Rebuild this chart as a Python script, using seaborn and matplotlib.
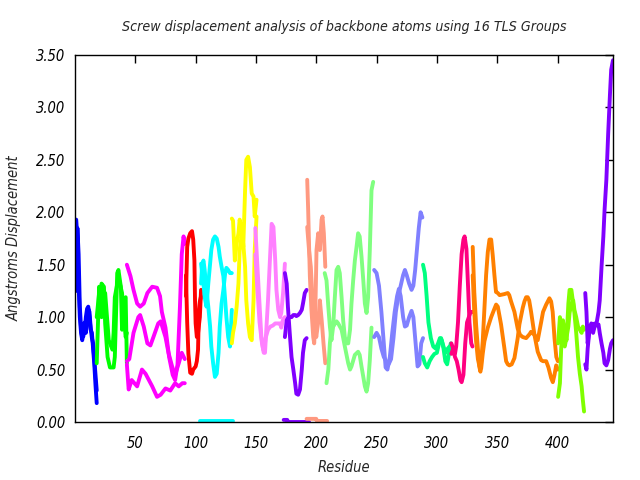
import pandas as pd
import matplotlib
matplotlib.use("Agg")
import matplotlib.pyplot as plt
import seaborn as sns

# ---- data: residue positions and displacement per curve ----

# group 1 (blue)
blue_r = [1, 2, 3, 4, 5, 6, 7, 8, 9, 10, 11, 12, 13, 14, 15, 16, 17, 18]
blue_a = [1.93, 1.75, 1.30, 1.00, 0.85, 0.78, 0.90, 0.85, 1.00, 1.08, 1.10, 1.00, 0.88, 0.85, 0.70, 0.55, 0.35, 0.18]
blue_b = [1.25, 1.85, 1.60, 1.10, 0.90, 0.80, 0.82, 0.95, 0.85, 0.95, 1.08, 1.05, 0.90, 0.80, 0.75, 0.60, 0.45, 0.30]

# group 2 (green)
green_r1 = [18, 20, 21, 22, 24, 25, 27, 29, 32, 33, 35, 36, 38, 39, 40, 42, 43]
green_a = [0.56, 1.29, 1.16, 1.32, 1.29, 0.94, 0.62, 0.52, 0.52, 0.62, 1.42, 1.45, 1.29, 0.88, 1.16, 1.19, 0.56]
green_r2 = [18, 20, 22, 25, 28, 31, 32, 33, 36, 39, 40, 42, 43]
green_b = [1.00, 1.23, 1.00, 1.23, 0.78, 0.69, 0.85, 1.19, 1.38, 1.23, 1.07, 0.81, 0.85]

# group 3 (magenta)
mag_r1 = [43, 46, 48.5, 51.5, 54, 57, 60, 64, 68, 70.5, 72, 75, 78, 81, 83, 85, 87, 88.5, 90, 91]
mag_a = [1.50, 1.39, 1.26, 1.13, 1.10, 1.13, 1.23, 1.29, 1.28, 1.20, 1.05, 0.90, 0.62, 0.45, 0.40, 0.55, 1.10, 1.60, 1.77, 1.70]
mag_r2 = [43, 45, 48.5, 52.5, 54, 57, 60, 62.5, 65, 69, 71, 75, 77.5, 80.5, 83, 86, 88.5, 91]
mag_b = [0.58, 0.60, 0.85, 1.00, 1.02, 0.91, 0.75, 0.73, 0.81, 0.94, 0.96, 0.81, 0.66, 0.53, 0.45, 0.56, 0.66, 0.60]
mag_r3 = [43, 44.5, 47, 51.5, 55.5, 58.5, 64, 68, 71, 75, 79, 83, 86, 89, 91]
mag_c = [0.55, 0.31, 0.40, 0.34, 0.50, 0.46, 0.34, 0.24, 0.26, 0.32, 0.30, 0.37, 0.34, 0.37, 0.37]

# group 4 (red)
red_r1 = [92, 93, 94, 95.5, 97, 98, 99, 99.5, 100, 101, 102, 103.5, 104.5]
red_a = [1.20, 1.67, 1.75, 1.80, 1.82, 1.74, 1.54, 1.16, 0.94, 0.81, 0.85, 1.00, 1.26]
red_r2 = [92, 93, 94, 95.5, 97, 98, 100, 101, 102, 102.7, 103.5, 104.5]
red_b = [1.40, 0.95, 0.65, 0.47, 0.46, 0.50, 0.53, 0.58, 0.69, 1.07, 1.15, 1.20]

# group 5 (cyan)
cyan_r1 = [104.5, 105.5, 106.5, 107.5, 109, 110.5, 112, 113, 114.5, 116, 117.5, 119, 120, 121.5, 123, 124.5, 125.5, 127, 128.5, 130]
cyan_a = [1.32, 1.51, 1.54, 1.45, 1.26, 1.10, 0.91, 0.72, 0.56, 0.43, 0.46, 0.66, 0.91, 1.13, 1.26, 1.42, 1.47, 1.45, 1.42, 1.42]
cyan_r2 = [104.5, 106.5, 107.5, 109, 110.5, 112, 113, 114.5, 116, 117.5, 119, 120, 121.5, 123, 124.5, 125.5, 127, 128.5, 130]
cyan_b = [1.51, 1.32, 1.19, 1.10, 1.32, 1.51, 1.64, 1.74, 1.77, 1.75, 1.67, 1.58, 1.48, 1.39, 1.16, 1.00, 0.81, 0.72, 1.07]
cyan_r3 = [104, 131]
cyan_c = [0.01, 0.01]

# group 6 (yellow)
yel_r = [130, 131, 132.5, 134, 135.5, 136.5, 138, 139.5, 141, 142, 143.5, 145, 146.5, 148, 149, 150.5]
yel_a = [1.94, 1.92, 1.54, 1.70, 1.80, 1.93, 1.83, 1.67, 2.21, 2.50, 2.53, 2.43, 2.18, 2.15, 1.96, 2.12]
yel_b = [0.75, 0.85, 0.94, 1.10, 1.32, 1.64, 1.77, 1.70, 1.48, 1.16, 0.94, 0.81, 0.78, 1.16, 1.64, 1.96]

# group 7 (pink)
pink_r1 = [149.5, 152, 154.5, 156, 157.5, 160, 163, 164.5, 166, 167, 168.5, 170, 171, 172.5, 174]
pink_a = [1.85, 1.32, 0.81, 0.69, 0.66, 1.16, 1.89, 1.86, 1.54, 1.26, 1.07, 1.00, 1.04, 1.23, 1.51]
pink_r2 = [149.5, 151, 153, 155, 156.5, 158, 160, 162, 164, 166, 168, 170, 171, 172.5, 174]
pink_b = [1.60, 1.30, 0.95, 0.75, 0.66, 0.80, 0.88, 0.91, 0.92, 0.94, 0.94, 0.94, 0.90, 0.98, 1.00]

# group 8 (violet)
vio_r = [174, 175.5, 176.5, 178, 179.5, 181, 182.5, 183.5, 185, 186.5, 188, 189, 190.5, 192]
vio_a = [1.42, 1.32, 1.10, 0.85, 0.62, 0.50, 0.37, 0.27, 0.26, 0.31, 0.50, 0.66, 0.78, 0.80]
vio_b = [0.81, 0.97, 0.99, 1.00, 1.00, 1.02, 1.02, 1.01, 1.02, 1.04, 1.07, 1.13, 1.23, 1.26]
vio_r3 = [173, 176, 176.5, 194]
vio_c = [0.02, 0.02, 0.0, 0.0]

# group 9 (salmon)
sal_r1 = [192.5, 193.3, 194, 194.7, 196, 197.5, 198.3, 199, 199.7, 200.2, 201.6, 203, 204.4, 205.2, 206.3, 207.5]
sal_a = [2.31, 2.02, 1.70, 1.39, 1.07, 0.81, 0.75, 0.94, 1.32, 1.64, 1.80, 1.64, 1.93, 1.96, 1.80, 1.48]
sal_r2 = [192.5, 194, 195.5, 197, 198.5, 200, 201.5, 203, 204.5, 206, 207.5]
sal_b = [1.86, 1.64, 1.48, 1.16, 1.00, 0.81, 0.94, 1.16, 0.97, 0.75, 0.56]
sal_r3 = [192, 200, 200.5, 209]
sal_c = [0.03, 0.03, 0.01, 0.01]

# group 10 (light green)
lg_r1 = [207, 208.5, 210, 211.3, 212.6, 214, 215.4, 216.8, 218.2, 219.5, 221, 222.3, 223.7, 225, 226.5,
         228, 229.2, 230.6, 232, 233.4, 234.7, 236, 237.5, 239, 240.3, 241.7, 243, 244.4, 245.8, 247.2]
lg_a = [1.42, 1.35, 1.10, 0.91, 0.78, 0.91, 1.19, 1.45, 1.48, 1.42, 1.19, 0.97, 0.81, 0.75, 0.75,
        0.88, 1.13, 1.35, 1.54, 1.67, 1.80, 1.77, 1.58, 1.35, 1.13, 1.04, 1.19, 1.64, 2.21, 2.29]
lg_r2 = [208.5, 210, 211.3, 212.6, 214, 216.8, 218.2, 221, 223.7, 226.5, 228, 229.2, 232, 234.7, 236,
         237.5, 239, 240.3, 241.7, 243, 244.4, 245.8]
lg_b = [0.37, 0.50, 0.75, 0.91, 0.91, 0.96, 0.94, 0.88, 0.72, 0.56, 0.50, 0.53, 0.64, 0.67, 0.64,
        0.53, 0.43, 0.34, 0.29, 0.37, 0.59, 0.90]

# group 11 (periwinkle)
peri_r1 = [248, 250, 252, 254, 256, 257.5, 259, 261, 263, 265, 267, 268.5, 270, 272, 273.5, 275, 277, 279,
           280.5, 282, 284, 285.5, 287, 288.5]
peri_a = [1.45, 1.42, 1.30, 1.05, 0.75, 0.52, 0.50, 0.62, 0.85, 1.05, 1.20, 1.27, 1.20, 1.00, 0.91, 0.92,
          1.00, 1.06, 1.00, 0.80, 0.53, 0.55, 0.75, 0.80]
peri_r2 = [248, 250, 252, 254, 256, 258, 260, 262, 264, 266, 268, 270, 272, 273.5, 275, 277, 279, 280.5,
           282, 283.5, 285, 286.5, 288]
peri_b = [0.81, 0.85, 0.81, 0.70, 0.62, 0.58, 0.55, 0.60, 0.80, 1.05, 1.20, 1.30, 1.40, 1.45, 1.40, 1.32,
          1.26, 1.30, 1.45, 1.65, 1.85, 2.00, 1.95]

# group 12 (spring green)
sg_r1 = [288.5, 290, 291.5, 293, 295, 297, 299, 301, 302.5, 304, 305.5, 307, 308.5, 310, 311.5]
sg_a = [1.50, 1.42, 1.20, 0.95, 0.80, 0.72, 0.70, 0.75, 0.80, 0.78, 0.70, 0.58, 0.55, 0.65, 0.75]
sg_r2 = [288.5, 290, 292, 294, 296, 298, 300, 302, 303.5, 305, 307, 309, 310.5, 312]
sg_b = [0.62, 0.56, 0.52, 0.58, 0.62, 0.65, 0.66, 0.76, 0.80, 0.74, 0.66, 0.70, 0.72, 0.72]

# group 13 (deep pink)
dp_r1 = [312, 313.5, 315, 316, 317.5, 319, 320.5, 322, 323, 324.5, 326, 327, 328.5, 329.5]
dp_a = [0.75, 0.70, 0.65, 0.72, 0.95, 1.30, 1.60, 1.74, 1.77, 1.65, 1.25, 0.95, 0.75, 0.72]
dp_r2 = [312, 313.5, 315, 316.5, 318, 319.5, 320.5, 322, 323.5, 325, 326.5, 328, 329.5]
dp_b = [0.65, 0.70, 0.62, 0.58, 0.50, 0.40, 0.38, 0.45, 0.75, 0.95, 1.00, 1.05, 1.05]

# group 14 (orange)
ora_r1 = [329.7, 331, 332.5, 334, 335.3, 336.1, 338, 339.4, 340.8, 342.2, 343.6, 345, 346.3, 347.7, 349,
          350.5, 352, 356, 358.8, 360, 361.5, 364.3, 367, 369, 371.2, 374, 377, 378, 381, 383.6, 386.4,
          388, 390.6, 393.3, 394.7, 396, 397.5, 399, 400.3]
ora_a = [1.67, 1.24, 0.93, 0.70, 0.52, 0.48, 0.77, 1.08, 1.40, 1.62, 1.74, 1.74, 1.59, 1.40, 1.24,
         1.23, 1.21, 1.22, 1.23, 1.21, 1.15, 1.05, 0.89, 0.83, 0.81, 0.80, 0.84, 0.86, 0.83, 0.78, 0.95,
         1.05, 1.12, 1.18, 1.15, 1.05, 0.80, 0.62, 0.58]
ora_r2 = [329.7, 331, 332.5, 334, 335.3, 336.7, 338, 339.4, 342.2, 345, 347.7, 349.1, 350.5, 353.2, 356,
          357.4, 358.8, 360.1, 362, 364.3, 367, 368.4, 371.2, 372.6, 374, 375.3, 376.5, 378.1, 380.9,
          383.6, 386.4, 388, 390.6, 392.5, 394.7, 396.1, 397.5, 398.9, 400.3]
ora_b = [1.40, 1.05, 0.77, 0.60, 0.53, 0.51, 0.65, 0.77, 0.90, 1.00, 1.08, 1.12, 1.10, 0.93, 0.70,
         0.58, 0.55, 0.54, 0.55, 0.61, 0.80, 0.93, 1.09, 1.15, 1.19, 1.19, 1.16, 1.05, 0.83,
         0.67, 0.59, 0.58, 0.58, 0.52, 0.42, 0.38, 0.45, 0.54, 0.50]

# group 15 (chartreuse)
cha_r = [400.5, 402, 403, 404.5, 406, 407.5, 409, 410, 411.5, 413, 414, 415.5, 417, 418.5, 420, 421, 422]
cha_a = [0.24, 0.37, 0.69, 0.97, 0.85, 0.78, 1.13, 1.26, 1.26, 1.13, 1.04, 0.85, 0.62, 0.46, 0.34, 0.21, 0.10]
cha_b = [0.75, 1.00, 0.88, 0.78, 0.72, 0.81, 0.91, 1.04, 1.13, 1.16, 1.07, 1.00, 0.91, 0.88, 0.85, 0.91, 0.88]

# group 16 (violet)
end_r = [423, 424, 425, 426.5, 428, 429.5, 431, 432.5, 434, 435, 436.5, 438, 439, 440.5, 442, 443.5, 444.5, 446]
end_a = [1.23, 1.05, 0.75, 0.90, 0.94, 0.93, 0.94, 0.92, 0.93, 0.85, 0.75, 0.66, 0.56, 0.54, 0.59, 0.70, 0.75, 0.78]
end_b = [0.55, 0.50, 0.70, 0.88, 0.91, 0.85, 0.92, 0.95, 1.05, 1.16, 1.48, 1.77, 2.02, 2.31, 2.75, 3.13, 3.36, 3.45]

x_ticks = [50, 100, 150, 200, 250, 300, 350, 400]
y_ticks = [0.0, 0.5, 1.0, 1.5, 2.0, 2.5, 3.0, 3.5]

groups = [
    ("g1", "#0000ff", [(blue_r, blue_a), (blue_r, blue_b)]),
    ("g2", "#00ff00", [(green_r1, green_a), (green_r2, green_b)]),
    ("g3", "#ff00ff", [(mag_r1, mag_a), (mag_r2, mag_b), (mag_r3, mag_c)]),
    ("g4", "#ff0000", [(red_r1, red_a), (red_r2, red_b)]),
    ("g5", "#00ffff", [(cyan_r1, cyan_a), (cyan_r2, cyan_b), (cyan_r3, cyan_c)]),
    ("g6", "#ffff00", [(yel_r, yel_a), (yel_r, yel_b)]),
    ("g7", "#ff80ff", [(pink_r1, pink_a), (pink_r2, pink_b)]),
    ("g8", "#8000ff", [(vio_r, vio_a), (vio_r, vio_b), (vio_r3, vio_c)]),
    ("g9", "#ff9980", [(sal_r1, sal_a), (sal_r2, sal_b), (sal_r3, sal_c)]),
    ("g10", "#80ff80", [(lg_r1, lg_a), (lg_r2, lg_b)]),
    ("g11", "#8080ff", [(peri_r1, peri_a), (peri_r2, peri_b)]),
    ("g12", "#00ff80", [(sg_r1, sg_a), (sg_r2, sg_b)]),
    ("g13", "#ff0080", [(dp_r1, dp_a), (dp_r2, dp_b)]),
    ("g14", "#ff8000", [(ora_r1, ora_a), (ora_r2, ora_b)]),
    ("g15", "#80ff00", [(cha_r, cha_a), (cha_r, cha_b)]),
    ("g16", "#8000ff", [(end_r, end_a), (end_r, end_b)]),
]

rows = []
for name, color, curves in groups:
    for i, (res, vals) in enumerate(curves):
        for r, v in zip(res, vals):
            rows.append({"group": name, "curve": f"{name}_{i}", "residue": r, "value": v})
df = pd.DataFrame(rows)
palette = {name: color for name, color, _ in groups}

# ---- plot ----
sns.set_style("white")
plt.rcParams["font.family"] = ["DejaVu Sans"]
plt.rcParams["font.style"] = "italic"
plt.rcParams["font.stretch"] = "condensed"

fig = plt.figure(figsize=(6.4, 4.8), dpi=100)
ax = fig.add_axes([75 / 640, 58 / 480, 538 / 640, 367 / 480])

sns.lineplot(data=df, x="residue", y="value", hue="group", units="curve", estimator=None,
             sort=False, palette=palette, hue_order=list(palette), legend=False,
             linewidth=2.8, ax=ax)

ax.set_xlim(0, 446)
ax.set_ylim(0, 3.5)
ax.set_xticks(x_ticks)
ax.set_yticks(y_ticks)
ax.set_yticklabels([f"{t:.2f}" for t in y_ticks])
ax.set_xlabel("")
ax.set_ylabel("")
for s in ax.spines.values():
    s.set_color("black")
    s.set_linewidth(1)
ax.tick_params(direction="in", top=True, right=True, length=6, width=1, labelsize=10.5, colors="black")
ax.tick_params(axis="x", pad=10)
ax.tick_params(axis="y", pad=7)

fig.text(344 / 640, 1 - 27 / 480, "Screw displacement analysis of backbone atoms using 16 TLS Groups",
         ha="center", va="center", fontsize=10.2)
fig.text(344 / 640, 1 - 467 / 480, "Residue", ha="center", va="center", fontsize=10.5)
fig.text(14 / 640, 1 - 238 / 480, "Angstroms Displacement", ha="center", va="center",
         rotation=90, fontsize=10.5)

fig.savefig("out.png", dpi=100)
